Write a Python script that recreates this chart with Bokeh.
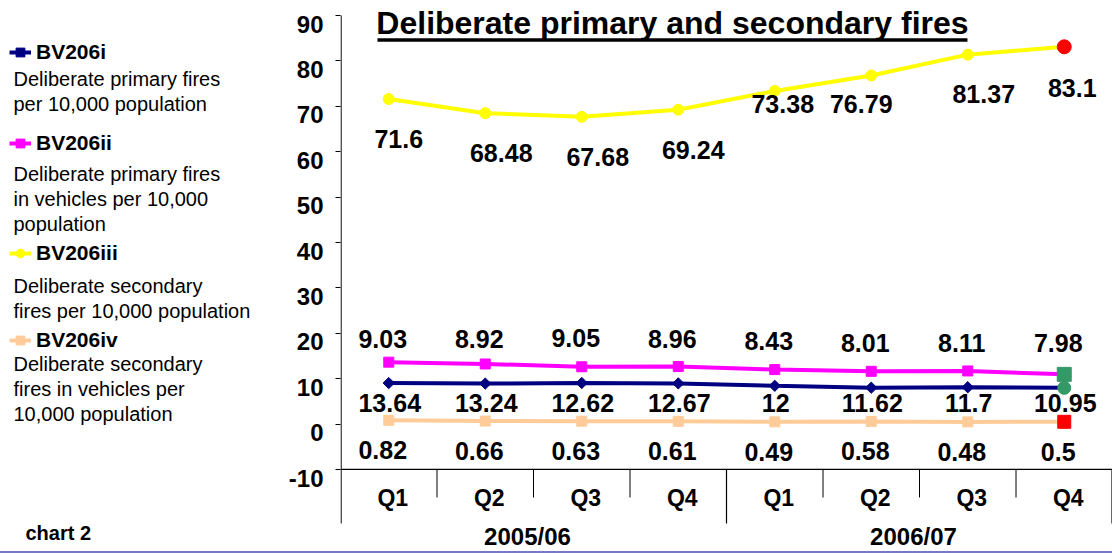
from bokeh.plotting import figure
from bokeh.models import (ColumnDataSource, FactorRange, Range1d, FixedTicker,
                          LinearAxis, Legend, LegendItem, Div)
from bokeh.layouts import row, column
from bokeh.embed import file_html
from bokeh.resources import INLINE
from bokeh.core.properties import value

# ---------------- data ----------------
years = ["2005/06", "2006/07"]
quarters = ["Q1", "Q2", "Q3", "Q4"]
bv206i = [9.03, 8.92, 9.05, 8.96, 8.43, 8.01, 8.11, 7.98]
bv206ii = [13.64, 13.24, 12.62, 12.67, 12, 11.62, 11.7, 10.95]
bv206iii = [71.6, 68.48, 67.68, 69.24, 73.38, 76.79, 81.37, 83.1]
bv206iv = [0.82, 0.66, 0.63, 0.61, 0.49, 0.58, 0.48, 0.5]
series_codes = ["BV206i", "BV206ii", "BV206iii", "BV206iv"]
series_desc = [
    ["Deliberate primary fires", "per 10,000 population"],
    ["Deliberate primary fires", "in vehicles per 10,000", "population"],
    ["Deliberate secondary", "fires per 10,000 population"],
    ["Deliberate secondary", "fires in vehicles per", "10,000 population"],
]
y_ticks = [-10, 0, 10, 20, 30, 40, 50, 60, 70, 80, 90]
title_text = "Deliberate primary and secondary fires"
footer_text = "chart 2"

FONT = "Liberation Sans"
factors = [(y, q) for y in years for q in quarters]

# ---------------- styles ----------------
styles = [
    dict(vals=bv206i, color="#000080", marker="square", angle=0.785, size=8,
         last_color="#339966", last_marker="circle", last_size=13),
    dict(vals=bv206ii, color="#FF00FF", marker="square", angle=0.0, size=10,
         last_color="#339966", last_marker="square", last_size=14),
    dict(vals=bv206iii, color="#FFFF00", marker="circle", angle=0.0, size=11,
         last_color="#FF0000", last_marker="circle", last_size=14),
    dict(vals=bv206iv, color="#FFCC99", marker="square", angle=0.0, size=10,
         last_color="#FF0000", last_marker="square", last_size=13),
]

# ---------------- main chart ----------------
Y0, Y1 = -28.07, 93.3
p = figure(width=828, height=551,
           x_range=FactorRange(*factors, factor_padding=0, group_padding=0, range_padding=0),
           y_range=Range1d(Y0, Y1),
           output_backend="svg", toolbar_location=None, title=None,
           x_axis_location=None, y_axis_location=None,
           min_border_left=56, min_border_right=0, min_border_top=0, min_border_bottom=0,
           outline_line_color=None)
p.xgrid.visible = False
p.ygrid.visible = False

# axis with tick marks only
ax_ticks = LinearAxis(ticker=FixedTicker(ticks=y_ticks),
                      major_label_overrides={v: "" for v in y_ticks},
                      major_tick_out=5, major_tick_in=0,
                      minor_tick_out=0, minor_tick_in=0,
                      axis_line_color=None, major_tick_line_color="black",
                      major_label_standoff=0)
p.add_layout(ax_ticks, "left")
# axis carrying the tick labels (set just below each tick as in the original)
lab_pos = [round(v - 1.9, 2) for v in y_ticks]
ax_labels = LinearAxis(ticker=FixedTicker(ticks=lab_pos),
                       major_label_overrides={lp: str(v) for lp, v in zip(lab_pos, y_ticks)},
                       major_tick_out=0, major_tick_in=0,
                       minor_tick_out=0, minor_tick_in=0,
                       axis_line_color=None, major_label_standoff=12,
                       major_label_text_font=FONT, major_label_text_font_style="bold",
                       major_label_text_font_size="24px", major_label_text_color="black")
p.add_layout(ax_labels, "left")

# axis lines and category-table lines
p.segment(x0=[0.006], y0=[90], x1=[0.006], y1=[-21.89], line_color="black", line_width=1.2)
p.segment(x0=[0], y0=[-10], x1=[8], y1=[-10], line_color="black", line_width=1.2)
p.segment(x0=[1, 2, 3, 5, 6, 7], y0=[-10] * 6, x1=[1, 2, 3, 5, 6, 7], y1=[-16.17] * 6,
          line_color="black", line_width=1)
p.segment(x0=[4, 7.995], y0=[-10, -10], x1=[4, 7.995], y1=[-21.89, -21.89],
          line_color="black", line_width=1.2)

# quarter and year labels
p.text(x=factors, y=[-16.39] * len(factors), text=[q for _, q in factors],
       text_font=value(FONT), text_font_style="bold", text_font_size="23px",
       text_align="center", text_baseline="middle", x_offset=4, text_color="black")
p.text(x=years, y=[-24.76] * len(years), text=years,
       text_font=value(FONT), text_font_style="bold", text_font_size="24px",
       text_align="center", text_baseline="middle", x_offset=-6, text_color="black")

# series
for st in styles:
    src = ColumnDataSource(dict(x=factors, y=st["vals"]))
    p.line("x", "y", source=src, line_color=st["color"], line_width=4)
    p.scatter("x", "y", source=src, marker=st["marker"], size=st["size"], angle=st["angle"],
              fill_color=st["color"], line_color=st["color"])
    p.scatter(x=[factors[-1]], y=[st["vals"][-1]], marker=st["last_marker"], size=st["last_size"],
              fill_color=st["last_color"], line_color=st["last_color"])

# data labels
def fmt(v):
    return f"{v:g}"

lab_common = dict(text_font=value(FONT), text_font_style="bold", text_font_size="25px",
                  text_align="center", text_baseline="middle", text_color="black")

# BV206i labels above the lines
p.text(x=factors, y=bv206i, text=[fmt(v) for v in bv206i], x_offset=-6, y_offset=-44.5, **lab_common)
# BV206ii labels in a row between navy and peach lines
p.text(x=factors, y=[4.65] * len(factors), text=[fmt(v) for v in bv206ii], x_offset=1, **lab_common)
# BV206iii labels below the yellow line
yel_src = ColumnDataSource(dict(x=factors, y=bv206iii, t=[fmt(v) for v in bv206iii],
                                dx=[10, 16, 16, 15, 8, -10, 16, 8],
                                dy=[40, 40, 40, 40, 13.5, 29, 39, 41]))
p.text(x="x", y="y", text="t", x_offset="dx", y_offset="dy", source=yel_src, **lab_common)
# BV206iv labels below the peach line
p.text(x=factors, y=bv206iv, text=[fmt(v) for v in bv206iv], x_offset=-6, y_offset=30, **lab_common)

# title (underlined)
p.text(x=[3.44], y=[88.24], text=[title_text], text_font=value(FONT), text_font_style="bold",
       text_font_size="32px", text_align="center", text_baseline="middle", text_color="black")
p.segment(x0=[0.383], y0=[84.6], x1=[6.497], y1=[84.6], line_color="black", line_width=3.5)

# ---------------- legend panel ----------------
lf = figure(width=284, height=551, x_range=Range1d(0, 284), y_range=Range1d(551, 0),
            output_backend="svg", toolbar_location=None, title=None, min_border=0,
            x_axis_location=None, y_axis_location=None, outline_line_color=None)
lf.xgrid.visible = False
lf.ygrid.visible = False

legend_y = [52, 143, 253, 340]
desc_y = [[78, 103], [173, 198, 223], [285, 310], [363, 388, 413]]
for i, st in enumerate(styles):
    rl = lf.line(x=[-60, -40], y=[100, 100], line_color=st["color"], line_width=4)
    rm = lf.scatter(x=[-50], y=[100], marker=st["marker"], size=st["size"], angle=st["angle"],
                    fill_color=st["color"], line_color=st["color"])
    leg = Legend(items=[LegendItem(label=value(series_codes[i]), renderers=[rl, rm])],
                 location=(9, 539 - legend_y[i]), padding=0, margin=0, spacing=0,
                 border_line_alpha=0, background_fill_alpha=0,
                 glyph_width=22, glyph_height=24, label_height=24, label_standoff=5,
                 label_text_font=FONT, label_text_font_style="bold",
                 label_text_font_size="21px", label_text_color="black")
    lf.add_layout(leg)
    lf.text(x=[13] * len(series_desc[i]), y=desc_y[i], text=series_desc[i],
            text_font=value(FONT), text_font_size="20px", text_align="left",
            text_baseline="middle", text_color="black")

lf.text(x=[25], y=[532], text=[footer_text], text_font=value(FONT), text_font_style="bold",
        text_font_size="20px", text_align="left", text_baseline="middle", text_color="black")

bottom_rule = Div(text="", width=1112, height=2, margin=0,
                  styles={"background-color": "#7878C8"})

layout = column(row(lf, p), bottom_rule)
open("out.html", "w").write(file_html(layout, INLINE))
